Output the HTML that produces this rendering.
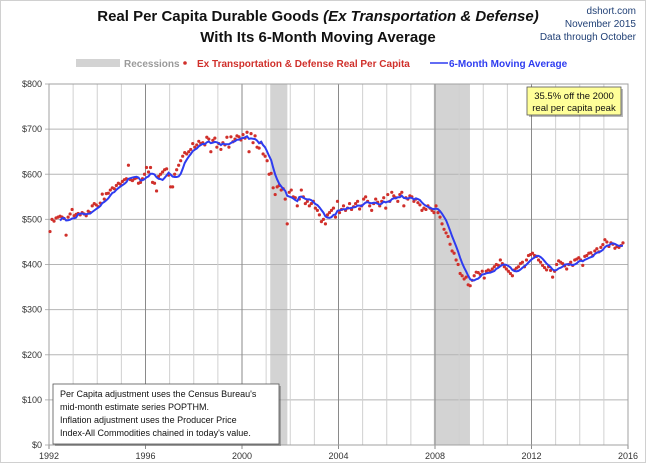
<!DOCTYPE html>
<html><head><meta charset="utf-8"><style>
body{margin:0;background:#fff;}
svg{display:block;font-family:"Liberation Sans",sans-serif;}
</style></head><body>
<svg id="chart" width="650" height="464" viewBox="0 0 650 464">
<rect x="0.5" y="0.5" width="645" height="462" fill="#fff" stroke="#d0d0d0"/>
<text x="318" y="21" text-anchor="middle" font-size="15" font-weight="bold" fill="#111">Real Per Capita Durable Goods <tspan font-style="italic">(Ex Transportation &amp; Defense)</tspan></text>
<text x="318" y="42" text-anchor="middle" font-size="15" font-weight="bold" fill="#111">With Its 6-Month Moving Average</text>
<g font-size="10" fill="#1f3f75" text-anchor="end">
<text x="636" y="14">dshort.com</text><text x="636" y="27">November 2015</text><text x="636" y="40">Data through October</text></g>
<g font-size="10" font-weight="bold">
<rect x="76" y="59" width="44" height="8" fill="#d3d3d3"/>
<text x="124" y="67" fill="#9a9a9a">Recessions</text>
<circle cx="185" cy="63" r="1.8" fill="#d0302b"/>
<text x="197" y="67" fill="#d0302b">Ex Transportation &amp; Defense Real Per Capita</text>
<line x1="430" y1="63" x2="448" y2="63" stroke="#2e3cf0" stroke-width="1.5"/>
<text x="449" y="67" fill="#2e3cf0">6-Month Moving Average</text>
</g>
<g id="plot"></g>
<g>
<rect x="529" y="89" width="94" height="28" fill="#3a3a3a" opacity="0.35"/>
<rect x="527" y="87" width="94" height="28" fill="#ffff99" stroke="#555" stroke-width="0.8"/>
<text x="574" y="99" text-anchor="middle" font-size="9.5" fill="#111">35.5% off the 2000</text>
<text x="574" y="111" text-anchor="middle" font-size="9.5" fill="#111">real per capita peak</text>
</g>
<g>
<rect x="55" y="386" width="226" height="60" fill="#3a3a3a" opacity="0.35"/>
<rect x="53" y="384" width="226" height="60" fill="#fff" stroke="#555" stroke-width="0.8"/>
<g font-size="9" fill="#111">
<text x="60" y="397">Per Capita adjustment uses the Census Bureau's</text>
<text x="60" y="410">mid-month estimate series POPTHM.</text>
<text x="60" y="423">Inflation adjustment uses the Producer Price</text>
<text x="60" y="436">Index-All Commodities chained in today's value.</text></g>
</g>
</svg>
<script>
const yTicks=[0,100,200,300,400,500,600,700,800];
const xYears=[1992,1993,1994,1995,1996,1997,1998,1999,2000,2001,2002,2003,2004,2005,2006,2007,2008,2009,2010,2011,2012,2013,2014,2015,2016];
const xLabels=[1992,1996,2000,2004,2008,2012,2016];
const recessionStarts=[2001.17,2007.95];
const recessionEnds=[2001.88,2009.45];
const startYear=1992;
const values=[
473,500,496,503,505,507,505,502,465,505,512,522,
508,511,513,510,515,512,508,518,515,530,535,532,
528,536,556,545,557,558,565,570,568,575,580,578,
584,588,590,620,588,586,590,592,580,582,590,600,
615,605,615,582,580,563,595,600,605,610,612,598,
572,572,600,610,620,630,640,648,645,650,655,668,
660,665,673,668,670,665,682,678,650,675,680,660,
668,655,670,665,682,660,683,672,678,685,683,676,
688,680,693,650,690,670,685,660,658,670,645,640,
630,600,602,570,555,572,575,565,568,545,490,560,
565,550,548,530,545,565,550,535,540,530,535,540,
525,520,510,495,500,490,510,515,520,525,505,540,
515,522,530,520,525,535,522,528,535,540,523,530,
545,550,540,530,520,535,545,538,530,540,548,525,
555,540,560,552,548,540,555,560,530,548,545,552,
550,540,545,537,532,520,525,522,530,525,520,515,
530,515,505,490,478,470,462,445,430,425,410,400,
380,375,368,372,355,353,365,375,383,382,378,385,
370,385,388,385,390,395,400,398,410,402,395,390,
385,380,375,388,392,395,402,405,395,410,420,422,
425,420,418,410,405,398,393,388,395,387,372,385,
400,408,405,402,397,390,400,405,398,410,412,415,
410,398,418,420,425,426,420,430,435,428,438,444,
455,450,440,448,445,436,440,438,442,448];
const L=49,R=628,T=84,B=445;
const xS=y=>L+(y-1992)/(2016-1992)*(R-L);
const yS=v=>B-v/800*(B-T);
const NS='http://www.w3.org/2000/svg';
const plot=document.getElementById('plot');
function mk(tag,attrs,parent){const e=document.createElementNS(NS,tag);for(const k in attrs)e.setAttribute(k,attrs[k]);(parent||plot).appendChild(e);return e;}
recessionStarts.forEach((s,i)=>{
 const r=mk('rect',{x:xS(s),y:T,width:xS(recessionEnds[i])-xS(s),height:B-T,fill:'#d3d3d3'});
 
 
});
yTicks.forEach(v=>{
 const l=mk('line',{x1:L-4,x2:R,y1:yS(v),y2:yS(v),stroke:'#b5b5b5','stroke-width':1});
 
 
 const t=mk('text',{x:L-7,y:yS(v)+3,'text-anchor':'end','font-size':9,fill:'#333'});
 t.textContent='$'+v;
 
 
});
xYears.forEach(yr=>{
 const major=xLabels.includes(yr);
 const l=mk('line',{x1:xS(yr),x2:xS(yr),y1:T,y2:B+(major?4:0),stroke:major?'#8a8a8a':'#d0d0d0','stroke-width':1});
 
 
});
xLabels.forEach(yr=>{
 const t=mk('text',{x:xS(yr),y:459,'text-anchor':'middle','font-size':9,fill:'#333'});
 t.textContent=yr;
 
 
});
const ax=mk('rect',{x:L,y:T,width:R-L,height:B-T,fill:'none',stroke:'#a0a0a0'});


const tOf=i=>startYear+(i+0.5)/12;
values.forEach((v,i)=>{
 const c=mk('circle',{cx:xS(tOf(i)),cy:yS(v),r:1.6,fill:'#d0302b'});
 
 
});
let pts=[];
for(let i=5;i<values.length;i++){
 let s=0;for(let k=i-5;k<=i;k++)s+=values[k];
 pts.push(xS(tOf(i)).toFixed(1)+','+yS(s/6).toFixed(1));
}
const pl=mk('polyline',{points:pts.join(' '),fill:'none',stroke:'#2e3cf0','stroke-width':2});


</script>
</body></html>
